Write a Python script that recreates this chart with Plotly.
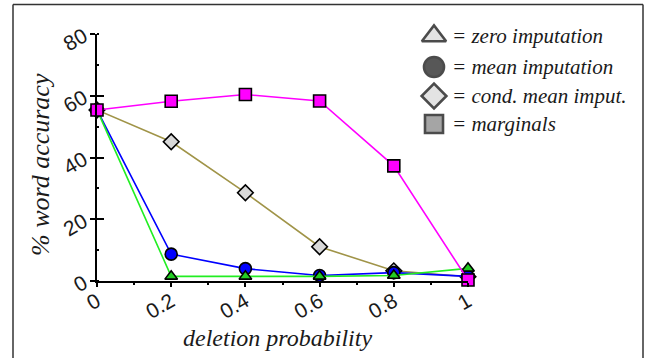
import plotly.graph_objects as go

deletion_prob = [0, 0.2, 0.4, 0.6, 0.8, 1]
zero_imputation = [55.4, 1.5, 1.5, 1.5, 1.8, 4.1]
mean_imputation = [55.4, 8.7, 4.0, 1.8, 2.7, 1.5]
cond_mean_imput = [55.4, 45.1, 28.6, 11.1, 3.3, 1.4]
marginals = [55.4, 58.2, 60.4, 58.3, 37.3, 0.3]

x_ticks = [0, 0.2, 0.4, 0.6, 0.8, 1]
x_tick_labels = ["0", "0.2", "0.4", "0.6", "0.8", "1"]
y_ticks = [0, 20, 40, 60, 80]
y_tick_labels = ["0", "20", "40", "60", "80"]

legend_labels = ["= zero imputation", "= mean imputation", "= cond. mean imput.", "= marginals"]
legend_symbols = ["triangle-up", "circle", "diamond", "square"]
legend_fills = ["#d8d8d8", "#111111", "#d8d8d8", "#808080"]
legend_sizes = [21, 20, 19, 18]

SERIF = "Times New Roman, Liberation Serif, DejaVu Serif, serif"
SANS = "Arial, Liberation Sans, sans-serif"

W, H = 659, 358
PL, PR, PT, PB = 97, 468, 34, 281        # plot area in page pixels
L, R, T, B = PL, W - PR, PT, H - PB
PW, PH = W - L - R, H - T - B


def px_x(p):
    return (p - PL) / PW


def px_y(p):
    return (PB - p) / PH


fig = go.Figure()

series = [
    (zero_imputation, "#22ee22", "triangle-up", "#22cc22", 11),
    (mean_imputation, "#0000ff", "circle", "#0000ff", 12),
    (cond_mean_imput, "#a09448", "diamond", "#d8d8d8", 12),
    (marginals, "#ff00ff", "square", "#ff00ff", 12),
]
for vals, lc, sym, fc, sz in [series[2], series[1], series[0], series[3]]:
    fig.add_trace(go.Scatter(
        x=deletion_prob, y=vals, mode="lines+markers",
        line=dict(color=lc, width=1.6),
        marker=dict(symbol=sym, color=fc, size=sz, line=dict(color="black", width=1.6)),
        cliponaxis=False, showlegend=False,
    ))

# legend drawn on a helper axis measured in page pixels
leg_x = 434
leg_y = [36, 67, 96, 124]
fig.add_trace(go.Scatter(
    x=[leg_x] * 4, y=leg_y, mode="markers", xaxis="x2", yaxis="y2",
    marker=dict(symbol=legend_symbols, color=legend_fills, size=legend_sizes,
                line=dict(color="black", width=2.6)),
    showlegend=False, hoverinfo="skip", cliponaxis=False,
))
for lab, yy in zip(legend_labels, leg_y):
    fig.add_annotation(x=px_x(450), y=px_y(yy), xref="paper", yref="paper", text=lab,
                       showarrow=False, xanchor="left", yanchor="middle",
                       font=dict(family=SERIF, size=21, color="#1a1a1a", style="italic"))

# axis titles
fig.add_annotation(x=px_x(277), y=px_y(338), xref="paper", yref="paper", text="deletion probability",
                   showarrow=False, xanchor="center", yanchor="middle",
                   font=dict(family=SERIF, size=24, color="#1a1a1a", style="italic"))
fig.add_annotation(x=px_x(40), y=px_y(164), xref="paper", yref="paper", text="% word accuracy",
                   showarrow=False, xanchor="center", yanchor="middle", textangle=-90,
                   font=dict(family=SERIF, size=26, color="#1a1a1a", style="italic"))

frame = dict(type="line", xref="paper", yref="paper", line=dict(color="#333333", width=1.5))
fig.update_layout(
    width=W, height=H,
    margin=dict(l=L, r=R, t=T, b=B, autoexpand=False),
    paper_bgcolor="white", plot_bgcolor="white",
    xaxis=dict(range=[0, 1], tickvals=x_ticks, ticktext=x_tick_labels, tickangle=-30,
               automargin=False,
               showgrid=False, zeroline=False, showline=True, linecolor="black", linewidth=2,
               ticks="outside", ticklen=4, tickwidth=1.5, tickcolor="black",
               minor=dict(ticks="outside", ticklen=2, tickcolor="black", dtick=0.1),
               tickfont=dict(family=SANS, size=21, color="#1a1a1a"),
               ticklabelstandoff=-6),
    yaxis=dict(range=[0, 80], tickvals=y_ticks, ticktext=y_tick_labels, tickangle=-30,
               automargin=False,
               showgrid=False, zeroline=False, showline=True, linecolor="black", linewidth=2,
               ticks="outside", ticklen=5, tickwidth=1.5, tickcolor="black",
               minor=dict(ticks="inside", ticklen=2, tickcolor="black", dtick=10),
               tickfont=dict(family=SANS, size=21, color="#1a1a1a"),
               ticklabelstandoff=2),
    yaxis3=dict(range=[0, 80], tickvals=y_ticks, showticklabels=False, overlaying="y",
                anchor="x", side="left", automargin=False, showgrid=False, zeroline=False,
                showline=False, ticks="inside", ticklen=7, tickwidth=1.5, tickcolor="black"),
    xaxis2=dict(range=[PL, PR], visible=False, overlaying="x", anchor="y2", automargin=False),
    yaxis2=dict(range=[PB, PT], visible=False, overlaying="y", anchor="x2", automargin=False),
    shapes=[
        dict(frame, x0=px_x(13), x1=px_x(643), y0=px_y(4.5), y1=px_y(4.5)),
        dict(frame, x0=px_x(13), x1=px_x(13), y0=px_y(4.5), y1=px_y(H)),
        dict(frame, x0=px_x(643), x1=px_x(643), y0=px_y(4.5), y1=px_y(H)),
    ],
)
fig.add_trace(go.Scatter(x=[None], y=[None], xaxis="x", yaxis="y3", showlegend=False, hoverinfo="skip"))

fig.write_html("out.html", config={"displayModeBar": False},
               post_script="document.body.style.margin='0';document.body.style.overflow='hidden';")
